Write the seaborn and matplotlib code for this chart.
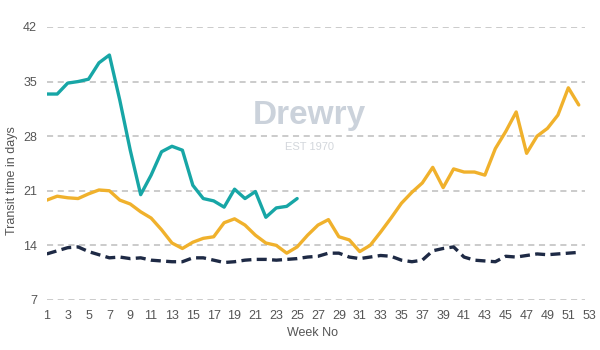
import matplotlib
matplotlib.use("Agg")
import matplotlib.pyplot as plt
import numpy as np
import pandas as pd
import seaborn as sns

# === Data ===
weeks = list(range(1, 53))

route_a = [33.4, 33.4, 34.8, 35.0, 35.3, 37.4, 38.4, 32.6, 26.2, 20.5,
           23.0, 26.0, 26.7, 26.2, 21.7, 20.0, 19.7, 18.9, 21.2, 20.0,
           20.9, 17.6, 18.8, 19.0, 20.0]

route_b = [19.8, 20.3, 20.1, 20.0, 20.6, 21.1, 21.0, 19.8, 19.3, 18.3,
           17.5, 16.0, 14.3, 13.6, 14.4, 14.9, 15.1, 16.9, 17.4, 16.6,
           15.3, 14.3, 14.0, 13.0, 13.8, 15.3, 16.6, 17.3, 15.1, 14.7,
           13.2, 14.0, 15.7, 17.5, 19.4, 20.8, 22.0, 24.0, 21.4, 23.8,
           23.4, 23.4, 23.0, 26.4, 28.6, 31.1, 25.8, 28.0, 29.0, 30.7,
           34.2, 32.0]

route_c = [12.9, 13.3, 13.7, 13.8, 13.2, 12.8, 12.4, 12.5, 12.3, 12.4,
           12.1, 12.0, 11.9, 11.9, 12.4, 12.4, 12.1, 11.8, 11.9, 12.1,
           12.2, 12.2, 12.1, 12.2, 12.3, 12.5, 12.6, 13.0, 13.0, 12.5,
           12.3, 12.5, 12.7, 12.6, 12.1, 11.9, 12.1, 13.3, 13.6, 13.8,
           12.5, 12.1, 12.0, 11.9, 12.6, 12.5, 12.7, 12.9, 12.8, 12.9,
           13.0, 13.1]

y_ticks = [7, 14, 21, 28, 35, 42]
x_ticks = list(range(1, 54, 2))

# === Palette ===
COLOR_A = "#17A6A6"
COLOR_B = "#F0B12C"
COLOR_C = "#1E2A45"
COLOR_GRID = "#BDBDBD"
COLOR_TEXT = "#555555"

sns.set_style("white")
plt.rcParams["font.family"] = ["Liberation Sans", "DejaVu Sans"]

fig = plt.figure(figsize=(6, 3.5), dpi=100)
ax = fig.add_axes([0.078, 0.143, 0.904, 0.78])

# ---------- Watermark ----------
ax.text(0.485, 0.675, "Drewry", transform=ax.transAxes, ha="center",
        va="center", fontsize=24, color="#CBD2DB", fontweight="bold",
        zorder=0)
ax.text(0.485, 0.56, "EST 1970", transform=ax.transAxes, ha="center",
        va="center", fontsize=8, color="#D3D7DC", zorder=0)

# ---------- Series ----------
df_a = pd.DataFrame({"week": weeks[:len(route_a)], "days": route_a})
df_b = pd.DataFrame({"week": weeks, "days": route_b})
df_c = pd.DataFrame({"week": weeks, "days": route_c})

line_kw = dict(linewidth=2.4, solid_joinstyle="round",
               solid_capstyle="round", zorder=3)
sns.lineplot(data=df_a, x="week", y="days", color=COLOR_A, ax=ax, **line_kw)
sns.lineplot(data=df_b, x="week", y="days", color=COLOR_B, ax=ax, **line_kw)
sns.lineplot(data=df_c, x="week", y="days", color=COLOR_C, ax=ax,
             linewidth=2.4, dashes=(3, 1.6), dash_joinstyle="round",
             zorder=3)

# ---------- Axes ----------
ax.set_xlim(1, 53)
ax.set_ylim(7, 42)
ax.set_yticks(y_ticks)
ax.set_xticks(x_ticks)
for t in y_ticks:
    ax.axhline(t, color=COLOR_GRID, linestyle=(0, (4, 3)), linewidth=1.1,
               xmax=0.993, zorder=1)
for s in ax.spines.values():
    s.set_visible(False)
ax.tick_params(axis="both", length=0, labelsize=9, colors=COLOR_TEXT)
ax.tick_params(axis="x", pad=7)
ax.tick_params(axis="y", pad=7)
ax.set_xlabel("Week No", fontsize=9, color=COLOR_TEXT)
ax.set_ylabel("Transit time in days", fontsize=9, color=COLOR_TEXT)
ax.xaxis.set_label_coords(0.489, -0.1)
ax.yaxis.set_label_coords(-0.053, 0.436)

fig.savefig("out.png", dpi=100)
